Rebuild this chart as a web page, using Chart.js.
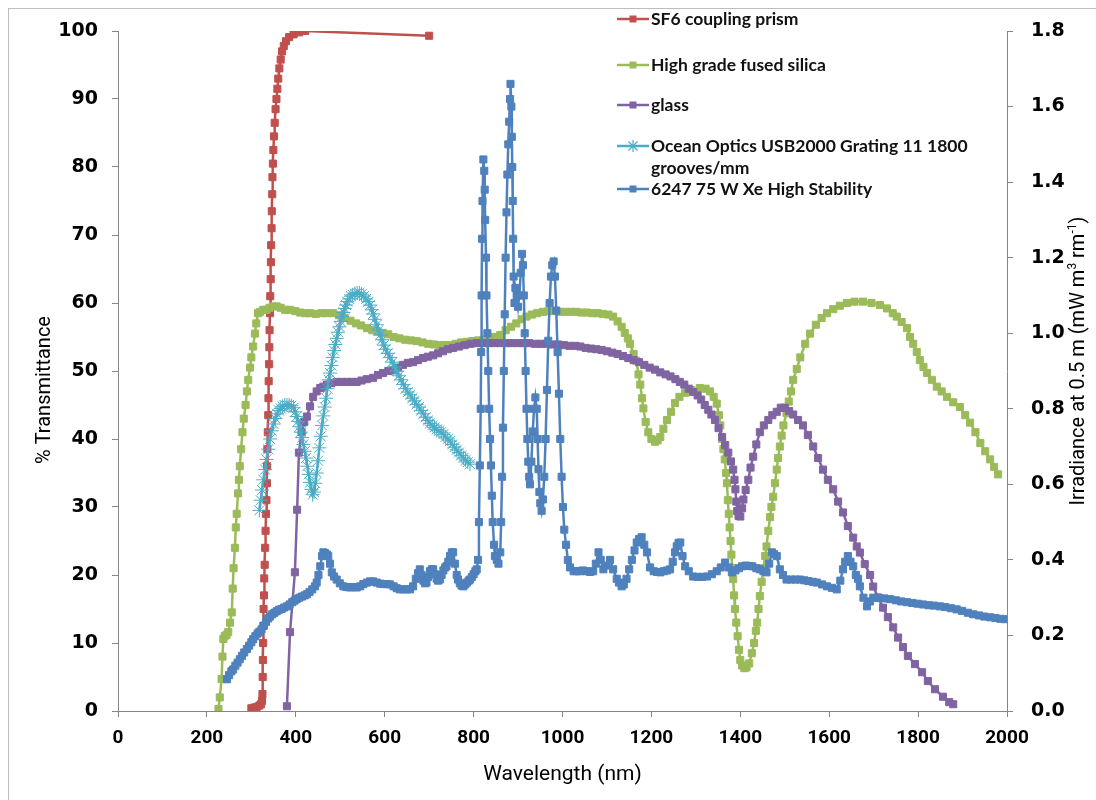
<!DOCTYPE html>
<html>
<head>
<meta charset="utf-8">
<script src="https://cdn.jsdelivr.net/npm/chart.js@4.4.1/dist/chart.umd.min.js"></script>
<style>
  body { margin: 0; background: #fff; }
  #wrap { position: relative; width: 1096px; height: 800px; overflow: hidden; }
  #frame { position: absolute; left: 8px; top: 8px; width: 1200px; height: 900px; border: 1px solid #bdbdbd; box-sizing: border-box; pointer-events: none; }
  .leg { position: absolute; left: 617px; font: 700 17.5px Lato, sans-serif; color: #111; line-height: 22px; white-space: nowrap; }
  .leg svg { position: absolute; left: 0; top: 4px; }
  .leg span { position: absolute; left: 34px; top: 0; }
</style>
</head>
<body>
<div id="wrap">
  <canvas id="chart" width="1096" height="800"></canvas>
  <div id="frame"></div>
  <div id="legend"></div>
</div>
<script>
// Tick labels
const wavelengthTicks = [0, 200, 400, 600, 800, 1000, 1200, 1400, 1600, 1800, 2000];
const transmittanceTicks = [0, 10, 20, 30, 40, 50, 60, 70, 80, 90, 100];
const irradianceTicks = ['0.0', '0.2', '0.4', '0.6', '0.8', '1.0', '1.2', '1.4', '1.6', '1.8'];

// Series: [wavelength nm, value]
const sf6Prism = [[300,0.4],[306,0.5],[312,0.6],[318,0.8],[322,1.0],[324,1.5],[325,2.5],[325.5,5],[326,7.5],[326.5,10],[327,12.5],[327.5,15],[328.5,17],[329,19.5],[330,21.5],[331,24],[332,26.5],[333,29],[334,31],[335,33.5],[335.5,36],[336,38.5],[337,41],[338,43.5],[338.5,46],[339,48.5],[340,51],[340.5,53.5],[341,56],[342,58.5],[342.5,61],[343.5,63.5],[344,66],[344.5,68.5],[345.5,71],[346,73.5],[347,76],[347.5,78.5],[348.5,80.5],[349.5,82.5],[351,84.5],[352.5,86.5],[354.5,88.5],[356.5,90],[358.5,91.5],[360.5,93],[363,94.5],[366,95.8],[369,97],[373,97.8],[378,98.5],[385,99.1],[395,99.5],[407,99.8],[421,100],[700,99.3]];

const fusedSilica = [[226,0.3],[229,2],[233,4.7],[235,8],[237,10.6],[240,11],[244,11.2],[248,11.6],[252,13],[256,14.5],[258,18],[260,21],[263,24],[265,27],[267,29],[270,32],[272,34],[274,36],[277,38.5],[280,41],[283,43],[287,45],[290,47],[293,48.7],[297,50.5],[300,52],[304,53.6],[308,55.5],[311,57],[315,58.5],[320,58.7],[327,59],[334,59],[341,59.3],[348,59.5],[357,59.5],[366,59.3],[376,59],[387,59],[399,58.8],[410,58.6],[421,58.5],[432,58.5],[445,58.4],[458,58.5],[471,58.5],[484,58.5],[497,58.2],[510,57.8],[523,57.4],[535,57],[547,56.7],[560,56.3],[572,56],[584,55.8],[596,55.6],[608,55.4],[620,55],[633,54.8],[646,54.6],[659,54.5],[672,54.4],[685,54.2],[698,54],[711,53.9],[723,53.8],[735,53.8],[747,53.8],[760,54],[772,54.2],[785,54.3],[797,54.4],[810,54.5],[822,54.6],[835,54.8],[847,55],[860,55.3],[872,56],[884,56.5],[896,57],[908,57.6],[919,58],[931,58.3],[943,58.5],[956,58.7],[968,58.8],[981,58.8],[994,58.7],[1007,58.7],[1019,58.7],[1031,58.7],[1043,58.6],[1055,58.6],[1067,58.5],[1079,58.5],[1091,58.4],[1103,58.3],[1114,58],[1124,57.3],[1133,56.5],[1140,55.6],[1147,54.8],[1152,54],[1160,52.5],[1166,51.5],[1171,49.5],[1175,48],[1179,46],[1182,44.5],[1187,42.5],[1193,41],[1200,40],[1208,39.6],[1214,39.8],[1220,40.3],[1227,41.5],[1235,42.8],[1244,44],[1253,45.3],[1263,46.2],[1276,46.8],[1290,47.2],[1309,47.5],[1322,47.4],[1332,47],[1340,46.2],[1347,45.2],[1352,43.5],[1355,42],[1359,40],[1362,38.5],[1365,37],[1368,35],[1370,33.5],[1372,31],[1374,29],[1376,27],[1378,25],[1380,23],[1382,21],[1384,19.4],[1386,17],[1388,15],[1391,13],[1394,11],[1397,9],[1400,7.5],[1404,6.7],[1409,6.3],[1414,6.4],[1420,7],[1426,8.5],[1431,10],[1435,11.8],[1438,13],[1441,15],[1444,16.9],[1448,19],[1452,21],[1456,22.8],[1459,24.2],[1463,26.5],[1467,28.5],[1470,30],[1474,31.5],[1478,33.5],[1482,35.5],[1485,37.2],[1489,38.9],[1493,40.5],[1497,42],[1504,43.8],[1509,45.5],[1514,47],[1519,48.7],[1527,50.3],[1535,52],[1546,54],[1557,55.5],[1570,56.8],[1583,57.8],[1595,58.5],[1609,59.1],[1624,59.6],[1640,60],[1657,60.2],[1676,60.2],[1695,60],[1714,59.7],[1730,59.2],[1743,58.5],[1752,58],[1763,57.2],[1775,56.3],[1782,55],[1789,54],[1797,52.8],[1804,51.6],[1812,50.6],[1820,49.7],[1831,48.7],[1842,47.7],[1853,47],[1865,46.2],[1879,45.4],[1894,44.7],[1906,43.5],[1917,42.4],[1929,41],[1940,39.4],[1951,38.2],[1962,37],[1971,35.9],[1980,34.8]];

const glass = [[380,0.7],[387,11.6],[398,20.4],[403,29.6],[407,38],[413,41],[419,42.5],[425,43.3],[432,44.8],[439,46.2],[447,47],[455,47.5],[462,47.7],[470,48],[480,48.2],[492,48.4],[503,48.4],[515,48.4],[526,48.4],[537,48.4],[548,48.6],[560,48.8],[574,49],[585,49.4],[596,49.7],[608,50],[619,50.1],[630,50.5],[641,50.9],[652,51.2],[664,51.3],[675,51.6],[686,51.9],[697,52.1],[709,52.3],[720,52.6],[731,52.9],[742,53.2],[754,53.4],[767,53.6],[780,53.8],[793,54],[807,54.1],[820,54.1],[833,54.1],[846,54.1],[860,54.1],[873,54.1],[886,54.1],[899,54.1],[912,54.1],[925,54.1],[938,54],[951,54],[964,54],[977,53.9],[990,53.9],[1003,53.8],[1016,53.7],[1029,53.7],[1040,53.6],[1052,53.4],[1064,53.3],[1076,53.2],[1088,53.1],[1100,52.9],[1112,52.7],[1124,52.5],[1136,52.2],[1148,51.9],[1160,51.6],[1172,51.3],[1184,50.9],[1196,50.5],[1208,50.2],[1220,49.8],[1232,49.5],[1243,49.2],[1254,48.8],[1264,48.4],[1274,48],[1284,47.4],[1294,46.9],[1304,46.4],[1312,45.8],[1320,45],[1328,44.3],[1335,43.6],[1343,42.8],[1351,41.6],[1359,40.3],[1366,39.1],[1373,38],[1379,36.7],[1384,35.5],[1387,34],[1389,32.6],[1391,30.8],[1393,29.4],[1396,28.7],[1400,28.6],[1404,29.8],[1407,31.1],[1412,32.5],[1418,34],[1423,35.8],[1429,37.4],[1436,39.2],[1444,41],[1453,42],[1463,42.8],[1472,43.5],[1482,44],[1491,44.6],[1500,44.6],[1510,44.1],[1519,43.6],[1530,42.8],[1541,42],[1552,40.6],[1564,38.9],[1575,37.2],[1586,35.5],[1597,34],[1609,32.6],[1620,30.8],[1631,29.2],[1642,27.2],[1654,25.5],[1662,24.2],[1669,23.3],[1680,21.6],[1692,20],[1699,18.3],[1710,16.7],[1721,15.2],[1732,13.8],[1744,12.3],[1755,10.8],[1766,9.4],[1777,8.1],[1793,6.9],[1809,5.7],[1822,4.4],[1838,3.2],[1856,2.1],[1870,1.3],[1879,1.0]];

const oceanOptics = [[318,29.5],[321,31],[324,32.5],[327,34],[331,35.5],[334,37],[338,38.5],[342,40],[346,41.2],[350,42.2],[354,43],[358,43.7],[362,44.2],[366,44.5],[370,44.8],[375,45],[380,45],[385,45],[390,44.9],[395,44.6],[399,44],[402,43.3],[405,42.6],[408,41.8],[411,41],[414,40.2],[417,39.2],[420,38.2],[423,37.2],[426,36],[429,34.8],[432,33.6],[435,32.6],[438,31.8],[441,32.2],[444,33.5],[447,35],[450,36.8],[453,38.7],[456,40.4],[459,42],[462,43.4],[465,44.7],[468,46],[471,47.4],[474,48.7],[477,49.7],[480,50.8],[483,52],[486,53],[489,53.9],[492,54.8],[495,55.7],[498,56.5],[501,57.3],[504,58],[507,58.6],[510,59.2],[513,59.7],[516,60.2],[520,60.6],[524,61],[528,61.2],[533,61.4],[538,61.5],[543,61.5],[548,61.3],[553,61],[558,60.6],[563,60.2],[567,59.7],[571,59],[574,58.4],[578,57.6],[582,56.8],[586,56],[590,55.3],[594,54.6],[598,53.8],[602,53.2],[607,52.6],[612,52],[617,51.3],[622,50.6],[627,50],[632,49.3],[637,48.7],[642,48],[647,47.4],[652,46.9],[657,46.5],[662,46],[667,45.6],[672,45.1],[677,44.7],[682,44.2],[687,43.7],[692,43.2],[697,42.7],[702,42.3],[707,42],[712,41.7],[717,41.4],[722,41.2],[727,41],[732,40.7],[737,40.3],[742,40],[747,39.7],[752,39.2],[757,38.8],[762,38.4],[767,38],[772,37.6],[777,37.2],[782,36.9],[787,36.6],[792,36.3]];

const xeLamp = [[245,0.084],[250,0.095],[255,0.105],[259,0.11],[264,0.12],[269,0.128],[274,0.137],[279,0.146],[284,0.155],[290,0.164],[295,0.173],[300,0.182],[304,0.19],[309,0.198],[314,0.205],[318,0.21],[323,0.216],[328,0.226],[333,0.236],[338,0.245],[342,0.25],[347,0.256],[352,0.26],[357,0.264],[362,0.268],[368,0.27],[374,0.274],[380,0.277],[386,0.282],[392,0.288],[397,0.292],[402,0.296],[408,0.3],[414,0.303],[420,0.306],[425,0.309],[431,0.315],[437,0.322],[443,0.33],[447,0.34],[451,0.36],[455,0.383],[459,0.41],[462,0.42],[466,0.418],[470,0.414],[473,0.41],[477,0.39],[481,0.367],[486,0.356],[492,0.348],[499,0.338],[507,0.33],[514,0.328],[522,0.327],[530,0.328],[537,0.327],[545,0.33],[552,0.336],[560,0.34],[567,0.343],[574,0.343],[582,0.34],[590,0.337],[597,0.336],[605,0.336],[612,0.335],[620,0.33],[627,0.325],[634,0.322],[642,0.322],[650,0.322],[657,0.322],[664,0.33],[670,0.35],[675,0.365],[679,0.375],[683,0.36],[687,0.345],[691,0.338],[694,0.34],[698,0.355],[702,0.37],[706,0.375],[709,0.375],[713,0.362],[717,0.35],[720,0.345],[724,0.348],[728,0.36],[732,0.372],[736,0.38],[739,0.383],[743,0.395],[747,0.41],[751,0.42],[754,0.42],[758,0.39],[762,0.36],[765,0.348],[769,0.338],[773,0.332],[777,0.33],[781,0.335],[785,0.34],[789,0.345],[792,0.348],[796,0.355],[800,0.362],[804,0.37],[807,0.375],
  [810,0.40],[812,0.5],[814,0.65],[816,0.8],[817,0.95],[818,1.1],[819,1.25],[820,1.35],[822,1.46],[824,1.43],[825,1.38],[826,1.3],[828,1.2],[829,1.1],[831,1.0],[833,0.9],[835,0.8],[837,0.72],[839,0.65],[841,0.57],[843,0.5],[846,0.44],[848,0.41],[852,0.4],[856,0.39],[860,0.42],[862,0.5],[864,0.62],[866,0.75],[868,0.9],[870,1.05],[872,1.2],[874,1.32],[876,1.42],[878,1.5],[880,1.56],[882,1.62],[883,1.66],[885,1.6],[886,1.52],[887,1.44],[888,1.35],[889,1.25],[890,1.15],[892,1.08],[894,1.12],[897,1.1],[900,1.07],[903,1.1],[906,1.16],[909,1.21],[911,1.18],[913,1.1],[915,1.0],[917,0.9],[919,0.8],[921,0.72],[923,0.66],[925,0.62],[927,0.6],[930,0.66],[933,0.74],[936,0.8],[939,0.83],[942,0.8],[944,0.72],[946,0.64],[948,0.58],[950,0.55],[953,0.53],[956,0.56],[959,0.62],[962,0.72],[965,0.85],[968,0.98],[971,1.08],[974,1.15],[977,1.18],[980,1.19],[983,1.15],[986,1.06],[989,0.95],[992,0.84],[995,0.72],[998,0.62],[1001,0.54],[1004,0.48],[1008,0.44],[1012,0.4],[1017,0.38],
  [1025,0.37],[1032,0.37],[1039,0.37],[1046,0.372],[1054,0.37],[1062,0.368],[1069,0.37],[1075,0.39],[1081,0.42],[1086,0.4],[1092,0.375],[1099,0.385],[1107,0.4],[1114,0.375],[1122,0.35],[1127,0.34],[1133,0.33],[1138,0.335],[1144,0.35],[1150,0.375],[1156,0.4],[1162,0.425],[1167,0.446],[1172,0.455],[1178,0.46],[1184,0.44],[1190,0.42],[1197,0.38],[1205,0.37],[1213,0.368],[1220,0.367],[1228,0.37],[1235,0.372],[1242,0.375],[1248,0.395],[1253,0.42],[1257,0.436],[1261,0.445],[1265,0.446],[1270,0.41],[1276,0.383],[1284,0.37],[1294,0.356],[1304,0.355],[1314,0.355],[1325,0.356],[1336,0.362],[1347,0.37],[1356,0.38],[1366,0.393],[1374,0.38],[1381,0.367],[1389,0.372],[1397,0.378],[1404,0.383],[1412,0.385],[1420,0.384],[1427,0.383],[1436,0.378],[1444,0.375],[1452,0.37],[1459,0.367],[1465,0.39],[1471,0.42],[1476,0.415],[1482,0.41],[1489,0.375],[1496,0.36],[1504,0.348],[1514,0.348],[1524,0.348],[1534,0.348],[1544,0.346],[1553,0.344],[1563,0.342],[1572,0.34],[1584,0.335],[1595,0.33],[1606,0.326],[1617,0.322],[1625,0.345],[1631,0.375],[1636,0.395],[1642,0.41],[1648,0.395],[1654,0.383],[1660,0.36],[1665,0.35],[1669,0.33],[1677,0.3],[1685,0.277],[1692,0.29],[1699,0.3],[1712,0.299],[1724,0.298],[1737,0.296],[1750,0.293],[1762,0.29],[1775,0.288],[1787,0.286],[1799,0.284],[1811,0.282],[1824,0.28],[1836,0.279],[1849,0.277],[1861,0.275],[1874,0.272],[1887,0.269],[1899,0.265],[1912,0.26],[1924,0.256],[1937,0.253],[1949,0.25],[1962,0.248],[1974,0.246],[1985,0.244],[1996,0.243]];

const seriesNames = ['SF6 coupling prism', 'High grade fused silica', 'glass', 'Ocean Optics USB2000 Grating 11 1800 grooves/mm', '6247 75 W Xe High Stability'];
const seriesColors = ['#C0504D', '#9BBB59', '#8064A2', '#4BACC6', '#4F81BD'];

const AXIS = '#868686';
const TITLE_FONT = '20px Roboto';
const SUP_FONT = '12px Roboto';

function toPoints(pairs) {
    return pairs.map(p => ({ x: p[0], y: p[1] }));
}

function squareSet(label, pairs, color, axis, order) {
    return {
        label: label,
        data: toPoints(pairs),
        yAxisID: axis,
        borderColor: color,
        backgroundColor: color,
        borderWidth: 2.5,
        pointStyle: 'rect',
        pointRadius: 5,
        pointBorderWidth: 1,
        pointBorderColor: color,
        pointBackgroundColor: color,
        tension: 0,
        order: order
    };
}

const datasets = [
    squareSet(seriesNames[0], sf6Prism, seriesColors[0], 'y', 5),
    squareSet(seriesNames[1], fusedSilica, seriesColors[1], 'y', 4),
    squareSet(seriesNames[2], glass, seriesColors[2], 'y', 3),
    {
        label: seriesNames[3],
        data: toPoints(oceanOptics),
        yAxisID: 'y',
        borderColor: seriesColors[3],
        backgroundColor: seriesColors[3],
        borderWidth: 2.5,
        pointStyle: 'star',
        pointRadius: 7,
        pointBorderWidth: 1,
        pointBorderColor: seriesColors[3],
        tension: 0,
        order: 2
    },
    squareSet(seriesNames[4], xeLamp, seriesColors[4], 'y1', 1)
];

function fixTicks(values) {
    return scale => { scale.ticks = values.map(v => ({ value: Number(v) })); };
}

// Both vertical axis titles read bottom-to-top, as in the original
const axisTitles = {
    id: 'axisTitles',
    afterDraw(chart) {
        const ctx = chart.ctx;
        ctx.save();
        ctx.fillStyle = '#000';
        ctx.textBaseline = 'middle';

        ctx.save();
        ctx.translate(45, 390);
        ctx.rotate(-Math.PI / 2);
        ctx.font = TITLE_FONT;
        ctx.textAlign = 'center';
        ctx.fillText('% Transmittance', 0, 0);
        ctx.restore();

        // right title with superscripts
        const parts = [
            ['Irradiance at 0.5 m (mW m', false],
            ['3', true],
            [' rm', false],
            ['-1', true],
            [')', false]
        ];
        let total = 0;
        parts.forEach(p => {
            ctx.font = p[1] ? SUP_FONT : TITLE_FONT;
            total += ctx.measureText(p[0]).width;
        });
        ctx.save();
        ctx.translate(1079, 361);
        ctx.rotate(-Math.PI / 2);
        ctx.textAlign = 'left';
        let x = -total / 2;
        parts.forEach(p => {
            ctx.font = p[1] ? SUP_FONT : TITLE_FONT;
            ctx.fillText(p[0], x, p[1] ? -6 : 0);
            x += ctx.measureText(p[0]).width;
        });
        ctx.restore();
        ctx.restore();
    }
};

new Chart(document.getElementById('chart'), {
    type: 'line',
    data: { datasets: datasets },
    plugins: [axisTitles],
    options: {
        responsive: false,
        animation: false,
        events: [],
        layout: { padding: { top: 31, left: 0, right: 0, bottom: 0 } },
        plugins: { legend: { display: false }, tooltip: { enabled: false } },
        scales: {
            x: {
                type: 'linear',
                min: 0, max: 2000,
                afterBuildTicks: fixTicks(wavelengthTicks),
                afterFit: s => { s.height = 89; },
                border: { color: AXIS, width: 1 },
                grid: { drawOnChartArea: false, color: AXIS, tickLength: 6 },
                ticks: {
                    color: '#000', padding: 10,
                    font: { family: 'Roboto', weight: 'bold', size: 19 },
                    callback: v => String(v)
                },
                title: { display: true, text: 'Wavelength (nm)', color: '#000', padding: { bottom: 13 }, font: { family: 'Roboto', size: 21 } }
            },
            y: {
                position: 'left',
                min: 0, max: 100,
                afterBuildTicks: fixTicks(transmittanceTicks),
                afterFit: s => { s.width = 118; },
                border: { color: AXIS, width: 1 },
                grid: { drawOnChartArea: false, color: AXIS, tickLength: 6 },
                ticks: { color: '#000', padding: 14, font: { family: 'DejaVu Sans', weight: 'bold', size: 19 } },
                title: { display: false }
            },
            y1: {
                position: 'right',
                min: 0, max: 1.8,
                afterBuildTicks: fixTicks(irradianceTicks),
                afterFit: s => { s.width = 89; },
                border: { color: AXIS, width: 1 },
                grid: { drawOnChartArea: false, color: AXIS, tickLength: 6 },
                ticks: {
                    color: '#000', padding: 18,
                    font: { family: 'DejaVu Sans', weight: 'bold', size: 19 },
                    callback: v => irradianceTicks.find(t => Math.abs(Number(t) - v) < 1e-6) || ''
                },
                title: { display: false }
            }
        }
    }
});

// Legend (placed like the original, inside the plot at top right)
const legendTops = [8, 54, 94, 135, 178];
const legend = document.getElementById('legend');
seriesNames.forEach((name, i) => {
    const c = seriesColors[i];
    const marker = i === 3
        ? `<g stroke="${c}" stroke-width="1.2"><line x1="10" y1="7" x2="22" y2="7"/><line x1="16" y1="1" x2="16" y2="13"/><line x1="11.5" y1="2.5" x2="20.5" y2="11.5"/><line x1="11.5" y1="11.5" x2="20.5" y2="2.5"/></g>`
        : `<rect x="12.5" y="3.5" width="7" height="7" fill="${c}"/>`;
    const text = i === 3 ? 'Ocean Optics USB2000 Grating 11 1800<br>grooves/mm' : name;
    const div = document.createElement('div');
    div.className = 'leg';
    div.style.top = legendTops[i] + 'px';
    div.innerHTML = `<svg width="32" height="14"><line x1="0" y1="7" x2="32" y2="7" stroke="${c}" stroke-width="2.5"/>${marker}</svg><span>${text}</span>`;
    legend.appendChild(div);
});
</script>
</body>
</html>
